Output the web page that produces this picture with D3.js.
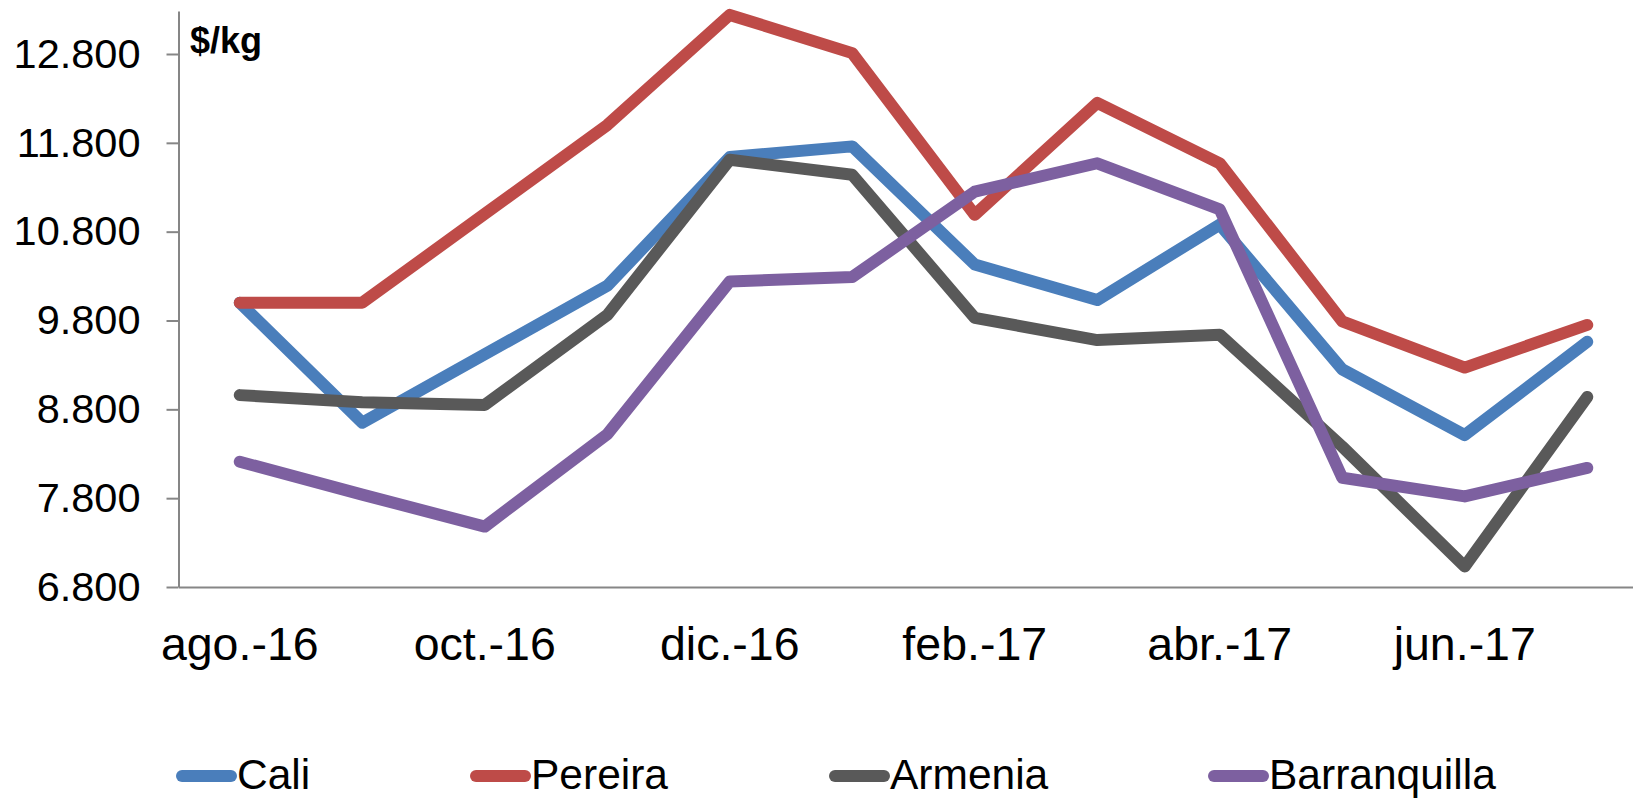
<!DOCTYPE html>
<html>
<head>
<meta charset="utf-8">
<script src="https://cdn.jsdelivr.net/npm/d3@7/dist/d3.min.js"></script>
<style>
  html, body { margin: 0; padding: 0; background: #fff; }
  svg { display: block; }
  text { font-family: "Liberation Sans", Arial, sans-serif; fill: #000; }
</style>
</head>
<body>
<svg id="chart" width="1633" height="798"></svg>
<script>
const months = ["ago.-16","sep.-16","oct.-16","nov.-16","dic.-16","ene.-17","feb.-17","mar.-17","abr.-17","may.-17","jun.-17","jul.-17"];
const seriesNames = ["Cali","Pereira","Armenia","Barranquilla"];
const cali         = [10000, 8650, 9420, 10190, 11640, 11760, 10430, 10030, 10880, 9250, 8510, 9560];
const pereira      = [10000, 10000, 11000, 12000, 13240, 12810, 10990, 12250, 11570, 9790, 9270, 9750];
const armenia      = [8960, 8880, 8850, 9860, 11610, 11440, 9830, 9580, 9640, 8380, 7030, 8940];
const barranquilla = [8210, 7840, 7480, 8520, 10240, 10290, 11250, 11570, 11050, 8030, 7820, 8140];
const yTicks = [6800, 7800, 8800, 9800, 10800, 11800, 12800];
const colors = ["#4A7EBB", "#BE4B48", "#595959", "#7D60A0"];
const unitLabel = "$/kg";

(function () {
const svg = d3.select("#chart");
const pLeft = 178.5, pRight = 1648.5, pBottom = 587, pTop = 11;

const x = d3.scaleBand().domain(months).range([pLeft, pRight]);
const y = d3.scaleLinear().domain([6800, 13284]).range([pBottom, pTop]);
const fmt = v => d3.format(",")(v).replace(/,/g, ".");

// Y axis
const yAxis = d3.axisLeft(y).tickValues(yTicks).tickSize(12).tickSizeOuter(0).tickPadding(26).tickFormat(fmt);
const gy = svg.append("g").attr("transform", `translate(${pLeft},0)`).call(yAxis);
gy.select(".domain").attr("stroke", "#868686").attr("stroke-width", 2);
gy.selectAll(".tick line").attr("stroke", "#868686").attr("stroke-width", 2);
gy.selectAll(".tick text").attr("font-size", 41.5).attr("fill", "#000")
  .style("font-family", "'Liberation Sans', Arial, sans-serif");

// X axis
const xAxis = d3.axisBottom(x).tickSize(0).tickSizeOuter(0).tickPadding(40)
  .tickFormat((d, i) => i % 2 === 0 ? d : "");
const gx = svg.append("g").attr("transform", `translate(0,${pBottom})`).call(xAxis);
gx.select(".domain").attr("stroke", "#868686").attr("stroke-width", 2);
gx.selectAll(".tick text").attr("font-size", 46.5).attr("fill", "#000")
  .style("font-family", "'Liberation Sans', Arial, sans-serif");

// Unit label
svg.append("text").attr("x", 190).attr("y", 53).attr("font-size", 36)
  .attr("font-weight", "bold").text(unitLabel);

// Lines
const allSeries = [cali, pereira, armenia, barranquilla];
const line = d3.line().x((d, i) => x(months[i]) + x.bandwidth() / 2).y(d => y(d));
allSeries.forEach((s, k) => {
  svg.append("path").datum(s)
    .attr("d", line)
    .attr("fill", "none")
    .attr("stroke", colors[k])
    .attr("stroke-width", 12)
    .attr("stroke-linejoin", "round")
    .attr("stroke-linecap", "round");
});

// Legend
const legendX = [176, 470, 829, 1208];
const legendY = 776;
seriesNames.forEach((name, k) => {
  const g = svg.append("g");
  g.append("line")
    .attr("x1", legendX[k] + 6).attr("x2", legendX[k] + 55)
    .attr("y1", legendY).attr("y2", legendY)
    .attr("stroke", colors[k]).attr("stroke-width", 12).attr("stroke-linecap", "round");
  g.append("text").attr("x", legendX[k] + 61).attr("y", 789)
    .attr("font-size", 42.5).text(name);
});
})();
</script>
</body>
</html>
